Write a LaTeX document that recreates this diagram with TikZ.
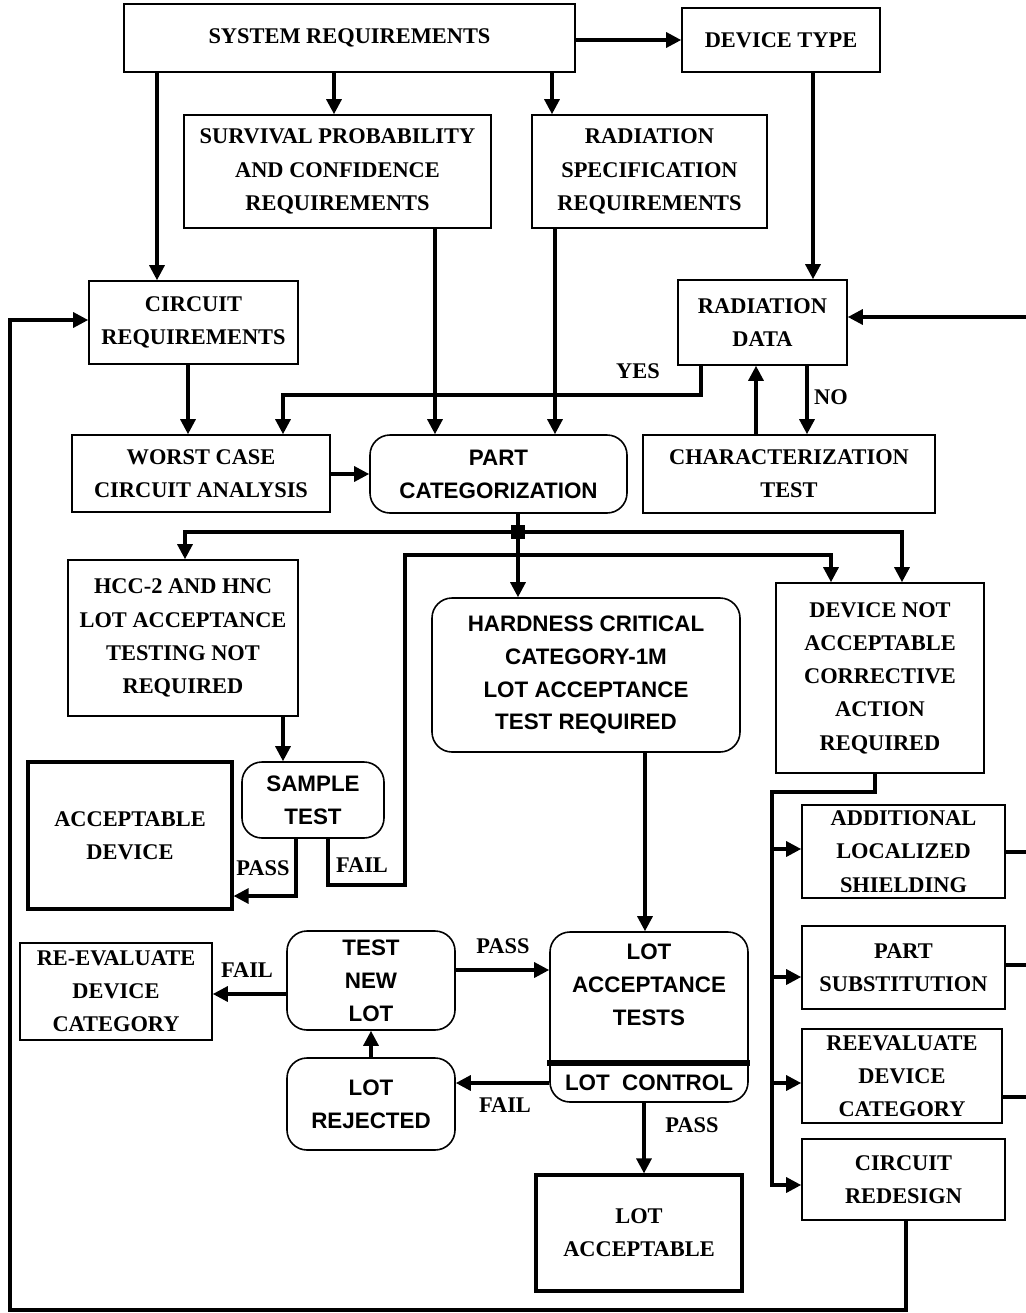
\documentclass[tikz,border=0pt]{standalone}
\usepackage{fontspec}
\setmainfont{Liberation Serif}
\newfontfamily\lotsans{Liberation Sans}
\usetikzlibrary{arrows.meta}

\tikzset{
  box/.style={draw, line width=0.8pt, align=center, inner sep=0pt,
    font=\fontsize{11.2}{16.6}\selectfont\bfseries},
  roundbox/.style={box, rounded corners=10pt,
    font=\fontsize{11.2}{16.4}\selectfont\lotsans\bfseries},
  heavybox/.style={box, line width=1.6pt},
  arr/.style={line width=1.6pt, -{Triangle[length=7.5pt,width=7.5pt]}},
  wire/.style={line width=1.6pt},
  tag/.style={font=\fontsize{11.2}{13}\selectfont\bfseries}
}

\begin{document}
\begin{tikzpicture}[x=0.5pt,y=-0.5pt]
  \useasboundingbox (0,0) rectangle (1026,1313);

  % top row
  \node[box, minimum width=225.5pt, minimum height=34pt] (sys) at (349.5,38) {SYSTEM REQUIREMENTS};
  \node[box, minimum width=99pt, minimum height=32pt] (devtype) at (781,40) {DEVICE TYPE};
  \node[box, minimum width=153.5pt, minimum height=56.5pt] (surv) at (337.5,171.5) {SURVIVAL PROBABILITY\\AND CONFIDENCE\\REQUIREMENTS};
  \node[box, minimum width=117.5pt, minimum height=56.5pt] (radspec) at (649.5,171.5) {RADIATION\\SPECIFICATION\\REQUIREMENTS};
  \node[box, minimum width=104.5pt, minimum height=41.5pt] (circreq) at (193.5,322.5) {CIRCUIT\\REQUIREMENTS};
  \node[box, minimum width=84.5pt, minimum height=42.5pt] (raddata) at (762.5,322.5) {RADIATION\\DATA};
  \node[box, minimum width=129pt, minimum height=38.5pt] (worst) at (201,473.5) {WORST CASE\\CIRCUIT ANALYSIS};
  \node[roundbox, minimum width=128.5pt, minimum height=39pt] (partcat) at (498.5,474) {PART\\CATEGORIZATION};
  \node[box, minimum width=146pt, minimum height=39pt] (charact) at (789,474) {CHARACTERIZATION\\TEST};

  % middle
  \node[box, minimum width=115pt, minimum height=78pt] (hcc) at (183,638) {HCC-2 AND HNC\\LOT ACCEPTANCE\\TESTING NOT\\REQUIRED};
  \node[roundbox, minimum width=154pt, minimum height=77pt] (hardness) at (586,675) {HARDNESS CRITICAL\\CATEGORY-1M\\LOT ACCEPTANCE\\TEST REQUIRED};
  \node[box, minimum width=104pt, minimum height=95pt] (devnot) at (880,678) {DEVICE NOT\\ACCEPTABLE\\CORRECTIVE\\ACTION\\REQUIRED};
  \node[roundbox, minimum width=71pt, minimum height=38pt] (sample) at (313,800) {SAMPLE\\TEST};
  \node[heavybox, minimum width=102pt, minimum height=73.5pt] (accdev) at (130,835.5) {ACCEPTABLE\\DEVICE};

  % corrective actions
  \node[box, minimum width=101.5pt, minimum height=46.5pt] (addshield) at (903.5,851.5) {ADDITIONAL\\LOCALIZED\\SHIELDING};
  \node[box, minimum width=101.5pt, minimum height=41.5pt] (partsub) at (903.5,967.5) {PART\\SUBSTITUTION};
  \node[box, minimum width=100pt, minimum height=47pt] (reeval) at (902,1076) {REEVALUATE\\DEVICE\\CATEGORY};
  \node[box, minimum width=101.5pt, minimum height=40.5pt] (redesign) at (903.5,1179.5) {CIRCUIT\\REDESIGN};

  % lot loop
  \node[box, minimum width=96pt, minimum height=48.5pt] (reevalcat) at (116,991.5) {RE-EVALUATE\\DEVICE\\CATEGORY};
  \node[roundbox, minimum width=84pt, minimum height=49.5pt] (testnew) at (371,980.5) {TEST\\NEW\\LOT};
  \node[roundbox, minimum width=84pt, minimum height=46pt] (lotrej) at (371,1104) {LOT\\REJECTED};
  \node[roundbox, minimum width=99pt, minimum height=85pt] (lotacc) at (649,1017) {};
  \node[roundbox, draw=none] (lottests) at (649,985) {LOT\\ACCEPTANCE\\TESTS};
  \node[roundbox, draw=none] (lotctrl) at (649,1083) {LOT\ \ CONTROL};
  \draw[line width=2.6pt] (547,1063) -- (750,1063);
  \node[heavybox, minimum width=103pt, minimum height=58pt] (lotok) at (639,1233) {LOT\\ACCEPTABLE};

  % flow from the top
  \draw[arr] (sys.east |- devtype.west) -- (devtype.west);
  \draw[arr] (334,0 |- sys.south) -- (334,0 |- surv.north);
  \draw[arr] (552,0 |- sys.south) -- (552,0 |- radspec.north);
  \draw[arr] (157,0 |- sys.south) -- (157,0 |- circreq.north);
  \draw[arr] (813,0 |- devtype.south) -- (813,0 |- raddata.north);
  \draw[arr] (435,0 |- surv.south) -- (435,0 |- partcat.north);
  \draw[arr] (555,0 |- radspec.south) -- (555,0 |- partcat.north);
  \draw[arr] (188,0 |- circreq.south) -- (188,0 |- worst.north);
  \draw[arr] (701,0 |- raddata.south) -- (701,395) -- (283,395) -- (283,0 |- worst.north);
  \node[tag] (yes) at (638,371) {YES};
  \draw[arr] (807,0 |- raddata.south) -- (807,0 |- charact.north);
  \node[tag] (no) at (831,397) {NO};
  \draw[arr] (756,0 |- charact.north) -- (756,0 |- raddata.south);
  \draw[arr] (worst.east |- partcat.west) -- (partcat.west);

  % categorization split
  \coordinate (jn) at (518,532);
  \draw[wire] (518,0 |- partcat.south) -- (jn);
  \node[fill, minimum size=7pt, inner sep=0pt] (jnsq) at (jn) {};
  \draw[arr] (jn) -| (185,0 |- hcc.north);
  \draw[arr] (jn) -| (902,0 |- devnot.north);
  \draw[arr] (jn) -- (jn |- hardness.north);

  % sample test
  \draw[arr] (283,0 |- hcc.south) -- (283,0 |- sample.north);
  \draw[arr] (296,0 |- sample.south) -- (296,896) -- (accdev.east |- 0,896);
  \node[tag] (pass1) at (263,868) {PASS};
  \draw[arr] (328,0 |- sample.south) -- (328,885) -- (405,885) -- (405,555) -- (831,555) -- (831,0 |- devnot.north);
  \node[tag] (fail1) at (362,865) {FAIL};

  % corrective actions
  \draw[arr] (875,0 |- devnot.south) -- (875,792) -- (772,792) -- (772,1185) -- (redesign.west |- 0,1185);
  \foreach \y/\n in {849/addshield, 977/partsub, 1083/reeval}
    \draw[arr] (772,\y) -- (\n.west |- 0,\y);
  \draw[wire] (addshield.east |- 0,852) -- (1028,852);
  \draw[wire] (partsub.east |- 0,965) -- (1028,965);
  \draw[wire] (reeval.east |- 0,1097) -- (1028,1097);
  \draw[arr] (1028,1097) -- (1028,317) -- (raddata.east |- 0,317);
  \draw[arr] (906,0 |- redesign.south) -- (906,1310) -- (10,1310) -- (10,320) -- (circreq.west |- 0,320);

  % lot acceptance
  \draw[arr] (645,0 |- hardness.south) -- (645,0 |- lotacc.north);
  \draw[arr] (testnew.west |- 0,994) -- (reevalcat.east |- 0,994);
  \node[tag] (fail2) at (247,970) {FAIL};
  \draw[arr] (testnew.east |- 0,970) -- (lotacc.west |- 0,970);
  \node[tag] (pass2) at (503,946) {PASS};
  \draw[arr] (lotrej.north) -- (testnew.south);
  \draw[arr] (lotacc.west |- 0,1083) -- (lotrej.east |- 0,1083);
  \node[tag] (fail3) at (505,1105) {FAIL};
  \draw[arr] (644,0 |- lotacc.south) -- (644,0 |- lotok.north);
  \node[tag] (pass3) at (692,1125) {PASS};
\end{tikzpicture}
\end{document}
